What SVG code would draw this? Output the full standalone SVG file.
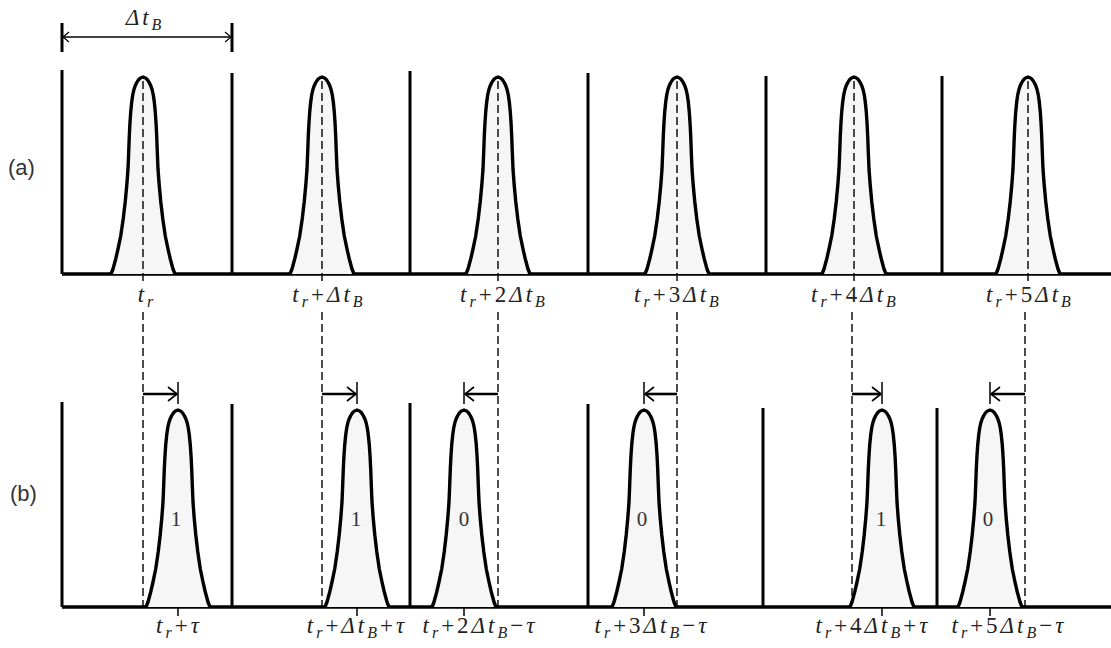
<svg xmlns="http://www.w3.org/2000/svg" xmlns:xlink="http://www.w3.org/1999/xlink" width="1111" height="648" viewBox="0 0 1111 648">
<style>
.axis{stroke:#000;stroke-width:3.4;fill:none}
.wall{stroke:#000;stroke-width:3;fill:none}
.dash{stroke:#000;stroke-width:1.4;stroke-dasharray:8 4;fill:none}
.pulse{stroke:#000;stroke-width:3.4;fill:#f6f6f6;stroke-linejoin:round}
.shaft{stroke:#000;stroke-width:2.6;fill:none}
.tick{stroke:#000;stroke-width:1.5;fill:none}
.lbl{font-family:"Liberation Serif","Times New Roman",serif;font-size:23px;fill:#222;letter-spacing:3px}
.i{font-style:italic}
.s{font-size:16px;font-style:italic}
.bit{font-family:"Liberation Serif","Times New Roman",serif;font-size:21px;fill:#333}
.tag{font-family:"Liberation Sans",Arial,sans-serif;font-size:22px;fill:#333}
</style>
<defs>
<path id="pulse" class="pulse" d="M-32,0 L-30,-5 L-27.3,-15 L-25,-25 L-22.3,-38 L-19.8,-55 L-17.8,-72 L-16.2,-89 L-15,-105 L-14.3,-122 L-13.7,-138 L-13.1,-150 L-12.3,-162 L-11.3,-172 L-10.3,-179 L-9.2,-184 L-7.9,-188 L-6.5,-191 L-5.3,-193 L-3.8,-195 L-2.5,-196 L0,-197 L2.5,-196 L3.8,-195 L5.3,-193 L6.5,-191 L7.9,-188 L9.2,-184 L10.3,-179 L11.3,-172 L12.3,-162 L13.1,-150 L13.7,-138 L14.3,-122 L15,-105 L16.2,-89 L17.8,-72 L19.8,-55 L22.3,-38 L25,-25 L27.3,-15 L30,-5 L32,0"/>
<marker id="ah" viewBox="-11 -9 13 18" refX="0" refY="0" markerWidth="13" markerHeight="18" markerUnits="userSpaceOnUse" orient="auto"><path d="M-9,-7 L0,0 L-9,7" fill="none" stroke="#000" stroke-width="1.6"/></marker>
<marker id="ahs" viewBox="-8 -7 10 14" refX="0" refY="0" markerWidth="10" markerHeight="14" markerUnits="userSpaceOnUse" orient="auto-start-reverse"><path d="M-6,-5 L0,0 L-6,5" fill="none" stroke="#000" stroke-width="1.2"/></marker>
</defs>
<rect width="1111" height="648" fill="#fff"/>

<g id="row-a">
<text class="tag" x="8" y="175">(a)</text>
<line class="axis" x1="62" y1="274" x2="1111" y2="274"/>
<line class="wall" x1="62" y1="70" x2="62" y2="274"/>
<line class="wall" x1="232" y1="73" x2="232" y2="274"/>
<line class="wall" x1="410" y1="71" x2="410" y2="274"/>
<line class="wall" x1="588" y1="73" x2="588" y2="274"/>
<line class="wall" x1="766" y1="76" x2="766" y2="274"/>
<line class="wall" x1="942" y1="76" x2="942" y2="274"/>
<use xlink:href="#pulse" x="143" y="274"/>
<use xlink:href="#pulse" x="322" y="274"/>
<use xlink:href="#pulse" x="498" y="274"/>
<use xlink:href="#pulse" x="677" y="274"/>
<use xlink:href="#pulse" x="854" y="274"/>
<use xlink:href="#pulse" x="1028" y="274"/>
<line class="dash" x1="143" y1="81" x2="143" y2="284"/>
<line class="dash" x1="322" y1="81" x2="322" y2="284"/>
<line class="dash" x1="498" y1="81" x2="498" y2="284"/>
<line class="dash" x1="677" y1="81" x2="677" y2="284"/>
<line class="dash" x1="854" y1="81" x2="854" y2="284"/>
<line class="dash" x1="1028" y1="81" x2="1028" y2="284"/>
<text class="lbl" x="147" y="302" text-anchor="middle"><tspan class="i">t</tspan><tspan class="s" dy="5">r</tspan></text>
<text class="lbl" x="329" y="302" text-anchor="middle"><tspan class="i">t</tspan><tspan class="s" dy="5">r</tspan><tspan dy="-5">+</tspan><tspan class="i">Δt</tspan><tspan class="s" dy="5">B</tspan></text>
<text class="lbl" x="504" y="302" text-anchor="middle"><tspan class="i">t</tspan><tspan class="s" dy="5">r</tspan><tspan dy="-5">+2</tspan><tspan class="i">Δt</tspan><tspan class="s" dy="5">B</tspan></text>
<text class="lbl" x="678" y="302" text-anchor="middle"><tspan class="i">t</tspan><tspan class="s" dy="5">r</tspan><tspan dy="-5">+3</tspan><tspan class="i">Δt</tspan><tspan class="s" dy="5">B</tspan></text>
<text class="lbl" x="855" y="302" text-anchor="middle"><tspan class="i">t</tspan><tspan class="s" dy="5">r</tspan><tspan dy="-5">+4</tspan><tspan class="i">Δt</tspan><tspan class="s" dy="5">B</tspan></text>
<text class="lbl" x="1030" y="302" text-anchor="middle"><tspan class="i">t</tspan><tspan class="s" dy="5">r</tspan><tspan dy="-5">+5</tspan><tspan class="i">Δt</tspan><tspan class="s" dy="5">B</tspan></text>
</g>

<g id="dimension">
<line class="wall" x1="62" y1="23" x2="62" y2="52"/>
<line class="wall" x1="232" y1="23" x2="232" y2="52"/>
<text class="lbl" x="145" y="25" text-anchor="middle"><tspan class="i">Δt</tspan><tspan class="s" dy="5">B</tspan></text>
</g>

<g id="row-b">
<text class="tag" x="10" y="501">(b)</text>
<line class="axis" x1="62" y1="607" x2="1111" y2="607"/>
<line class="wall" x1="62" y1="402" x2="62" y2="607"/>
<line class="wall" x1="232" y1="404" x2="232" y2="607"/>
<line class="wall" x1="410" y1="403" x2="410" y2="607"/>
<line class="wall" x1="588" y1="404" x2="588" y2="607"/>
<line class="wall" x1="763" y1="408" x2="763" y2="607"/>
<line class="wall" x1="937" y1="408" x2="937" y2="607"/>
<line class="dash" x1="143" y1="312" x2="143" y2="607"/>
<line class="dash" x1="322" y1="312" x2="322" y2="607"/>
<line class="dash" x1="498" y1="312" x2="498" y2="607"/>
<line class="dash" x1="677" y1="312" x2="677" y2="607"/>
<line class="dash" x1="852" y1="312" x2="852" y2="607"/>
<line class="dash" x1="1025" y1="312" x2="1025" y2="607"/>
<use xlink:href="#pulse" x="178" y="607"/>
<use xlink:href="#pulse" x="357" y="607"/>
<use xlink:href="#pulse" x="464" y="607"/>
<use xlink:href="#pulse" x="644" y="607"/>
<use xlink:href="#pulse" x="882" y="607"/>
<use xlink:href="#pulse" x="990" y="607"/>
<line class="tick" x1="178" y1="607" x2="178" y2="616"/>
<line class="tick" x1="357" y1="607" x2="357" y2="616"/>
<line class="tick" x1="464" y1="607" x2="464" y2="616"/>
<line class="tick" x1="644" y1="607" x2="644" y2="616"/>
<line class="tick" x1="882" y1="607" x2="882" y2="616"/>
<line class="tick" x1="990" y1="607" x2="990" y2="616"/>
<text class="bit" x="176" y="526" text-anchor="middle">1</text>
<text class="bit" x="356" y="526" text-anchor="middle">1</text>
<text class="bit" x="464" y="526" text-anchor="middle">0</text>
<text class="bit" x="642" y="526" text-anchor="middle">0</text>
<text class="bit" x="881" y="526" text-anchor="middle">1</text>
<text class="bit" x="988" y="526" text-anchor="middle">0</text>
<text class="lbl" x="179" y="633" text-anchor="middle"><tspan class="i">t</tspan><tspan class="s" dy="5">r</tspan><tspan dy="-5">+</tspan><tspan class="i">τ</tspan></text>
<text class="lbl" x="357" y="633" text-anchor="middle"><tspan class="i">t</tspan><tspan class="s" dy="5">r</tspan><tspan dy="-5">+</tspan><tspan class="i">Δt</tspan><tspan class="s" dy="5">B</tspan><tspan dy="-5">+</tspan><tspan class="i">τ</tspan></text>
<text class="lbl" x="480" y="633" text-anchor="middle"><tspan class="i">t</tspan><tspan class="s" dy="5">r</tspan><tspan dy="-5">+2</tspan><tspan class="i">Δt</tspan><tspan class="s" dy="5">B</tspan><tspan dy="-5">−</tspan><tspan class="i">τ</tspan></text>
<text class="lbl" x="652" y="633" text-anchor="middle"><tspan class="i">t</tspan><tspan class="s" dy="5">r</tspan><tspan dy="-5">+3</tspan><tspan class="i">Δt</tspan><tspan class="s" dy="5">B</tspan><tspan dy="-5">−</tspan><tspan class="i">τ</tspan></text>
<text class="lbl" x="873" y="633" text-anchor="middle"><tspan class="i">t</tspan><tspan class="s" dy="5">r</tspan><tspan dy="-5">+4</tspan><tspan class="i">Δt</tspan><tspan class="s" dy="5">B</tspan><tspan dy="-5">+</tspan><tspan class="i">τ</tspan></text>
<text class="lbl" x="1009" y="633" text-anchor="middle"><tspan class="i">t</tspan><tspan class="s" dy="5">r</tspan><tspan dy="-5">+5</tspan><tspan class="i">Δt</tspan><tspan class="s" dy="5">B</tspan><tspan dy="-5">−</tspan><tspan class="i">τ</tspan></text>
</g>

<g id="connectors">
<line x1="63" y1="37" x2="231" y2="37" stroke="#000" stroke-width="1.3" marker-start="url(#ahs)" marker-end="url(#ahs)"/>
<line class="tick" x1="178" y1="382" x2="178" y2="404"/>
<line class="tick" x1="357" y1="382" x2="357" y2="404"/>
<line class="tick" x1="464" y1="382" x2="464" y2="404"/>
<line class="tick" x1="644" y1="382" x2="644" y2="404"/>
<line class="tick" x1="882" y1="382" x2="882" y2="404"/>
<line class="tick" x1="990" y1="382" x2="990" y2="404"/>
<line class="shaft" x1="143" y1="394" x2="177" y2="394" marker-end="url(#ah)"/>
<line class="shaft" x1="322" y1="394" x2="356" y2="394" marker-end="url(#ah)"/>
<line class="shaft" x1="498" y1="394" x2="465" y2="394" marker-end="url(#ah)"/>
<line class="shaft" x1="677" y1="394" x2="645" y2="394" marker-end="url(#ah)"/>
<line class="shaft" x1="852" y1="394" x2="881" y2="394" marker-end="url(#ah)"/>
<line class="shaft" x1="1025" y1="394" x2="991" y2="394" marker-end="url(#ah)"/>
</g>
</svg>
